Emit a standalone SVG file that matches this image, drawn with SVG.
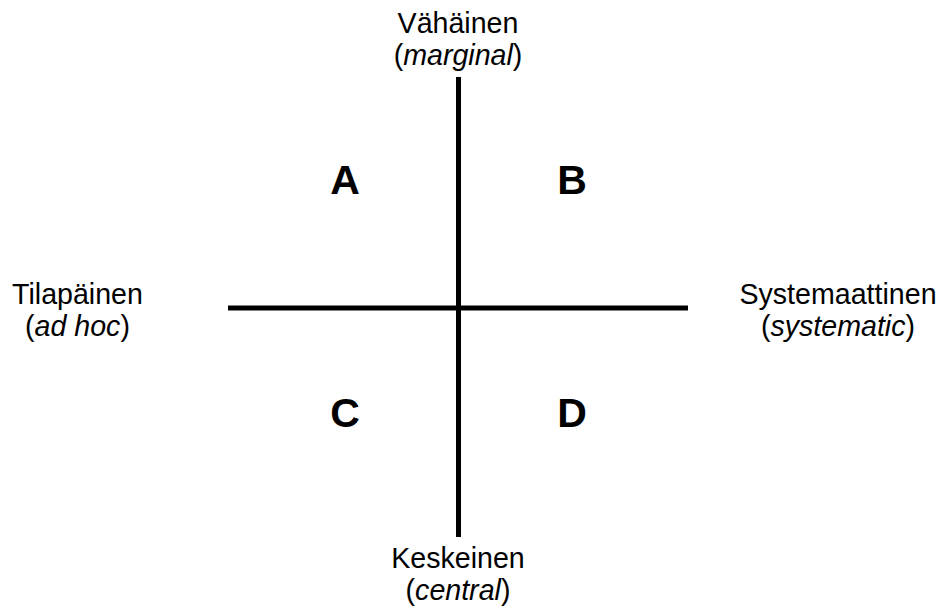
<svg xmlns="http://www.w3.org/2000/svg" width="944" height="612" viewBox="0 0 944 612">
<style>
.lbl{font-family:"Liberation Sans",Arial,sans-serif;font-size:28.6px;fill:#000;text-anchor:middle}
.q{font-family:"Liberation Sans",Arial,sans-serif;font-size:41px;font-weight:bold;fill:#000;text-anchor:middle}
.ax{stroke:#000;stroke-width:5;fill:none}
</style>
<rect width="944" height="612" fill="#fff"/>
<g id="connectors">
<line class="ax" x1="458.5" y1="77" x2="458.5" y2="537"/>
<line class="ax" x1="228" y1="308" x2="688" y2="308"/>
</g>
<g id="top"><text class="lbl" x="458" y="33">Vähäinen</text><text class="lbl" x="458" y="65">(<tspan font-style="italic">marginal</tspan>)</text></g>
<g id="bottom"><text class="lbl" x="458" y="568">Keskeinen</text><text class="lbl" x="458" y="600">(<tspan font-style="italic">central</tspan>)</text></g>
<g id="left"><text class="lbl" x="77.5" y="304">Tilapäinen</text><text class="lbl" x="77.5" y="336">(<tspan font-style="italic">ad hoc</tspan>)</text></g>
<g id="right"><text class="lbl" x="838" y="304">Systemaattinen</text><text class="lbl" x="838" y="336">(<tspan font-style="italic">systematic</tspan>)</text></g>
<g id="A"><text class="q" x="345" y="194">A</text></g>
<g id="B"><text class="q" x="572" y="194">B</text></g>
<g id="C"><text class="q" x="345" y="427">C</text></g>
<g id="D"><text class="q" x="572" y="427">D</text></g>
</svg>
